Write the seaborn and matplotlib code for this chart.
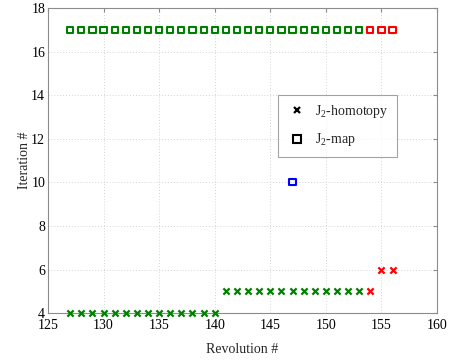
import matplotlib
matplotlib.use("Agg")
import matplotlib.pyplot as plt
from matplotlib.lines import Line2D
import pandas as pd
import seaborn as sns

# J2-map iterations per revolution
map_rev = list(range(127, 157)) + [147]
map_iter = [17] * 30 + [10]
map_color = ["green"] * 27 + ["red"] * 3 + ["blue"]

# J2-homotopy iterations per revolution
hom_rev = list(range(127, 157))
hom_iter = [4] * 14 + [5] * 14 + [6] * 2
hom_color = ["green"] * 27 + ["red"] * 3

x_ticks = [125, 130, 135, 140, 145, 150, 155, 160]
y_ticks = [4, 6, 8, 10, 12, 14, 16, 18]

sns.set_style("white")
plt.rcParams["font.family"] = ["Liberation Serif", "DejaVu Serif"]
plt.rcParams["mathtext.fontset"] = "custom"
plt.rcParams["mathtext.rm"] = "Liberation Serif"

palette = {"green": "#008000", "red": "#ff0000", "blue": "#0000ff"}

fig = plt.figure(figsize=(4.55, 3.62), dpi=100)
ax = fig.add_axes([0.1055, 0.135, 0.855, 0.843])

df_map = pd.DataFrame({"rev": map_rev, "iter": map_iter, "c": map_color})
df_hom = pd.DataFrame({"rev": hom_rev, "iter": hom_iter, "c": hom_color})

for c, grp in df_map.groupby("c"):
    sns.scatterplot(data=grp, x="rev", y="iter", ax=ax, marker="s", s=20,
                    color=palette[c], legend=False, zorder=3, clip_on=False)
    coll = ax.collections[-1]
    coll.set_facecolor("none")
    coll.set_edgecolor(palette[c])
    coll.set_linewidth(1.5)

for c, grp in df_hom.groupby("c"):
    sns.scatterplot(data=grp, x="rev", y="iter", ax=ax, marker="x", s=20,
                    color=palette[c], linewidth=1.6, legend=False, zorder=3,
                    clip_on=False)

ax.set_xlim(125, 160)
ax.set_ylim(4, 18)
ax.set_xticks(x_ticks)
ax.set_yticks(y_ticks)
ax.grid(True, linestyle=(0, (1, 2)), color="#d4d4d4", linewidth=0.7)
ax.set_axisbelow(True)
for sp in ax.spines.values():
    sp.set_color("#8c8c8c")
    sp.set_linewidth(0.8)
ax.tick_params(direction="in", length=3, color="#8c8c8c", labelsize=10,
               top=True, right=True, pad=2, labelcolor="black")
ax.tick_params(axis="x", pad=4)
ax.set_xlabel("Revolution #", fontsize=10, labelpad=8)
ax.set_ylabel("Iteration #", fontsize=10, labelpad=0)

handles = [
    Line2D([], [], marker="x", linestyle="", color="black", markersize=5,
           markeredgewidth=1.6),
    Line2D([], [], marker="s", linestyle="", color="black", markersize=5.5,
           markerfacecolor="none", markeredgewidth=1.5),
]
labels = [r"J$_{\mathregular{2}}$-homotopy", r"J$_{\mathregular{2}}$-map"]
leg = ax.legend(handles, labels, loc="upper left", bbox_to_anchor=(0.591, 0.715),
                borderaxespad=0, frameon=True, fancybox=False, fontsize=10,
                borderpad=0.6, handletextpad=0.6, labelspacing=0.8,
                handlelength=1.5)
leg.get_frame().set_edgecolor("#8c8c8c")
leg.get_frame().set_linewidth(0.8)

fig.savefig("out.png", dpi=100)
